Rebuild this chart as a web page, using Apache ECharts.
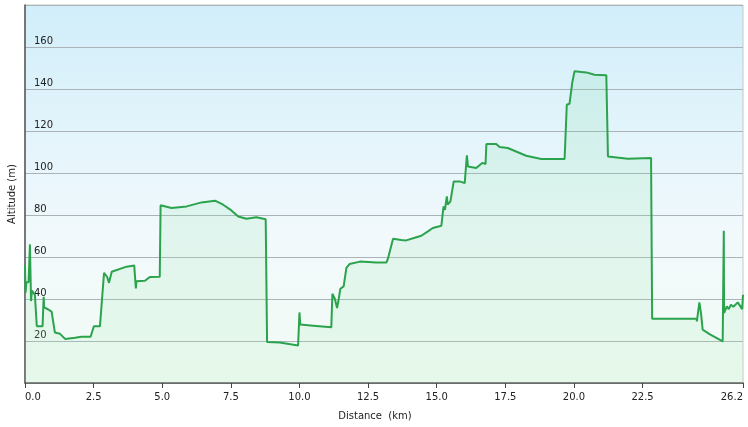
<!DOCTYPE html>
<html>
<head>
<meta charset="utf-8">
<script src="https://cdn.jsdelivr.net/npm/echarts@6/dist/echarts.min.js"></script>
<style>
html,body{margin:0;padding:0;background:#fff;}
#chart{width:748px;height:427px;}
</style>
</head>
<body>
<div id="chart"></div>
<script>
// Distance along the route (km)
const distKm = [
  0.00, 0.02, 0.05, 0.13, 0.18, 0.22, 0.25, 0.36, 0.43, 0.64,
  0.68, 0.70, 0.85, 0.97, 1.09, 1.27, 1.46, 1.82, 2.06, 2.39,
  2.51, 2.73, 2.88, 2.99, 3.06, 3.16, 3.70, 3.98, 4.02, 4.04,
  4.06, 4.37, 4.55, 4.91, 4.94, 5.34, 5.89, 6.43, 6.92, 7.22,
  7.52, 7.77, 8.07, 8.43, 8.77, 8.82, 9.28, 9.95, 10.00, 10.03,
  10.50, 11.16, 11.20, 11.29, 11.37, 11.43, 11.49, 11.61, 11.71, 11.83,
  12.20, 12.80, 13.17, 13.23, 13.29, 13.41, 13.71, 13.89, 14.20, 14.44,
  14.68, 14.86, 15.17, 15.25, 15.30, 15.37, 15.40, 15.50, 15.62, 15.84,
  16.02, 16.10, 16.14, 16.44, 16.66, 16.78, 16.81, 17.17, 17.29, 17.59,
  18.26, 18.81, 19.66, 19.74, 19.84, 19.94, 20.02, 20.45, 20.75, 21.18,
  21.24, 21.96, 22.81, 22.85, 24.47, 24.48, 24.57, 24.63, 24.69, 24.94,
  25.42, 25.46, 25.47, 25.57, 25.64, 25.72, 25.81, 25.97, 26.13, 26.16
];
// Altitude (m)
const altM = [
  56, 43, 48, 48, 66, 39, 44, 42, 27, 27,
  41, 36, 35, 34, 24, 23.5, 21, 21.5, 22, 22,
  27, 27, 52.5, 50.6, 47.7, 53, 55.4, 56, 48.4, 45,
  48.4, 48.7, 50.5, 50.6, 84.6, 83.3, 84.1, 86, 86.8, 84.9,
  82.2, 79.3, 78.2, 78.9, 78, 19.5, 19.3, 17.9, 33.6, 27.8,
  27.3, 26.5, 42.5, 40, 35.7, 40, 44.9, 46, 54.8, 56.7,
  57.8, 57.4, 57.4, 59.5, 59.8, 68.7, 68.1, 67.9, 69.2, 70.1,
  72.2, 73.8, 74.9, 84.1, 82.5, 88.9, 84.9, 86.5, 96, 96,
  95.2, 108.4, 103.1, 102.4, 104.8, 104.3, 113.8, 113.8, 112.4, 111.9,
  108.2, 106.7, 106.7, 132.5, 133, 143.1, 148.4, 147.9, 146.8, 146.5,
  107.9, 106.8, 107.1, 30.6, 30.6, 29.3, 38.4, 33.3, 25.4, 23.3,
  19.8, 72.5, 33.3, 36.5, 35.2, 37.3, 36.3, 38.4, 35.2, 42
];
// Axis ticks
const xTicks = [0, 2.5, 5, 7.5, 10, 12.5, 15, 17.5, 20, 22.5, 26.16];
const xMax = 26.16;
const yMin = 0, yMax = 180, yStep = 20;

const FONT = '"DejaVu Sans", Verdana, sans-serif';
const chart = echarts.init(document.getElementById('chart'), null, {renderer: 'canvas'});
chart.setOption({
  animation: false,
  backgroundColor: '#ffffff',
  grid: {
    left: 25, right: 5, top: 5, bottom: 44,
    containLabel: false,
    outerBoundsMode: 'none',
    show: true,
    borderColor: '#c4c8cb',
    borderWidth: 1,
    backgroundColor: {
      type: 'linear', x: 0, y: 0, x2: 0, y2: 1,
      colorStops: [
        {offset: 0, color: '#d1eefa'},
        {offset: 0.6, color: '#f1f9fc'},
        {offset: 1, color: '#f3fbf5'}
      ]
    }
  },
  xAxis: {
    type: 'value',
    min: 0, max: xMax,
    name: 'Distance  (km)',
    nameLocation: 'middle',
    nameGap: 28,
    nameTextStyle: {fontFamily: FONT, fontSize: 10, color: '#222', padding: [0, 18, 0, 0]},
    axisLine: {show: true, onZero: false, lineStyle: {color: '#555', width: 1.5}},
    axisTick: {show: true, length: 5, customValues: xTicks, lineStyle: {color: '#444'}},
    axisLabel: {
      customValues: xTicks,
      alignMinLabel: 'left',
      alignMaxLabel: 'right',
      hideOverlap: false,
      fontFamily: FONT, fontSize: 10, color: '#222', margin: 9,
      formatter: v => Number(v).toFixed(1)
    },
    splitLine: {show: false}
  },
  yAxis: {
    type: 'value',
    min: yMin, max: yMax, interval: yStep,
    name: 'Altitude (m)',
    nameLocation: 'middle',
    nameGap: -3,
    nameTextStyle: {fontFamily: FONT, fontSize: 10, color: '#222', padding: [8, 0, 0, 0]},
    axisLine: {show: true, lineStyle: {color: '#555', width: 1.5}},
    axisTick: {show: false},
    axisLabel: {
      inside: true, margin: 9, verticalAlign: 'bottom',
      padding: [0, 0, 1, 0],
      fontFamily: FONT, fontSize: 10, color: '#222',
      formatter: v => (v === yMin || v === yMax) ? '' : String(v)
    },
    splitLine: {show: true, lineStyle: {color: '#a9b3b8', width: 1}}
  },
  series: [{
    type: 'line',
    data: distKm.map((d, i) => [d, altM[i]]),
    showSymbol: false,
    smooth: false,
    lineStyle: {color: '#2ba34d', width: 2},
    itemStyle: {color: '#2ba34d'},
    areaStyle: {
      color: {
        type: 'linear', x: 0, y: 0, x2: 0, y2: 1,
        colorStops: [
          {offset: 0, color: 'rgba(110,215,150,0.22)'},
          {offset: 1, color: 'rgba(170,235,180,0.25)'}
        ]
      }
    }
  }]
});
</script>
</body>
</html>
